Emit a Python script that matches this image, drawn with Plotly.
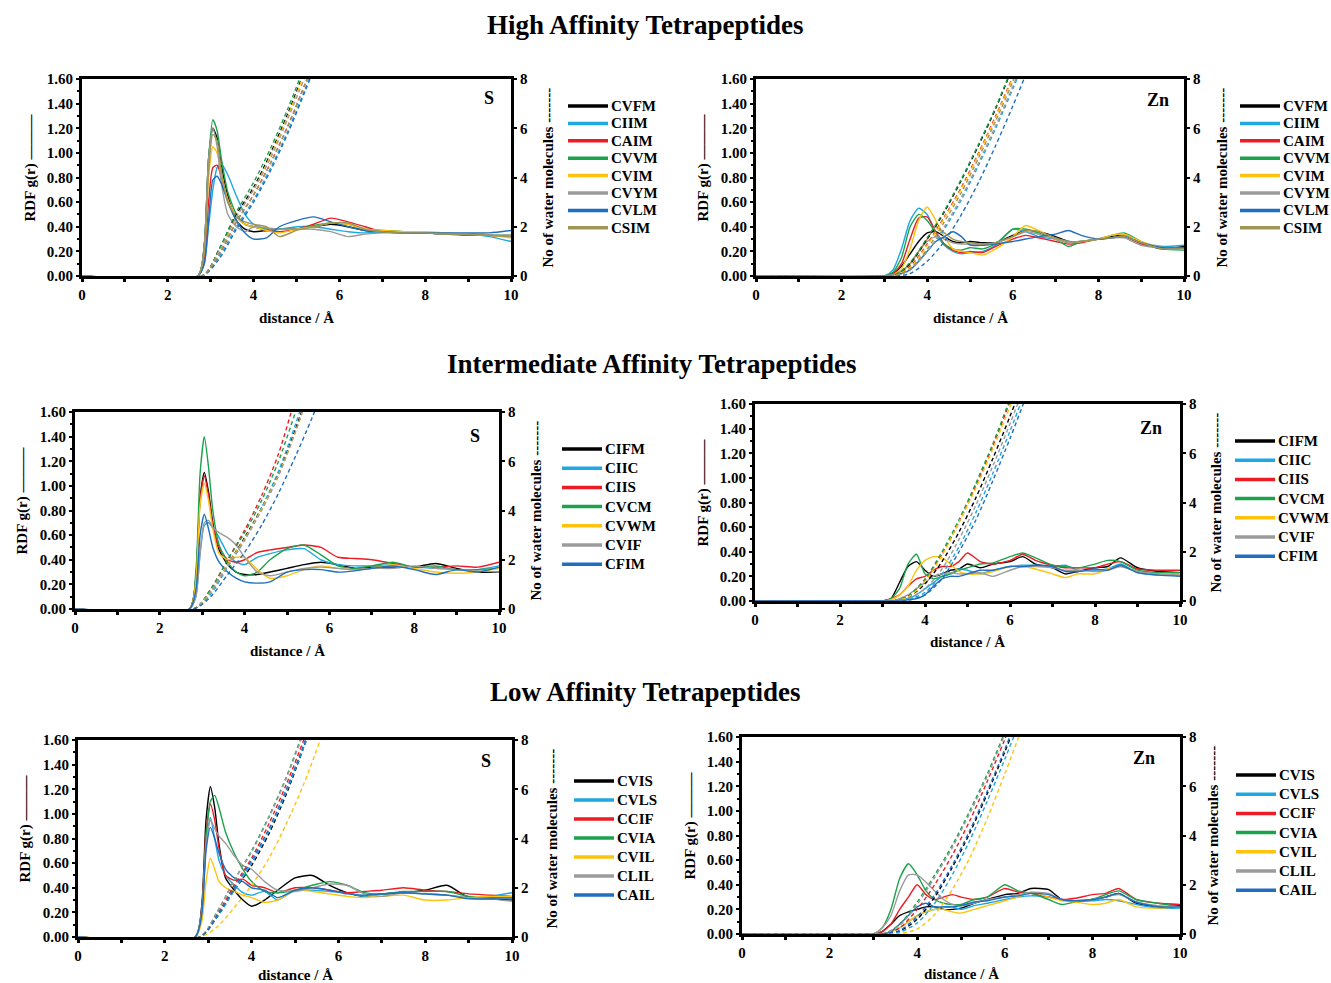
import plotly.graph_objects as go

W, H = 1331, 983

# ---------------- distance grids (Å) ----------------
r_S = [0, 2.7, 2.85, 2.95, 3.05, 3.15, 3.25, 3.4, 3.6, 3.8, 4.0, 4.3, 4.6, 5.0, 5.4, 5.8, 6.2, 6.6, 7.0, 7.5, 8.0, 8.5, 9.0, 9.5, 10.0]
r_Zn = [0, 3.0, 3.2, 3.4, 3.6, 3.8, 4.0, 4.2, 4.4, 4.6, 4.8, 5.0, 5.3, 5.6, 6.0, 6.3, 6.6, 7.0, 7.3, 7.6, 8.0, 8.3, 8.6, 9.0, 9.5, 10.0]
rn_S = [0, 2.8, 3.2, 3.6, 4.0, 4.4, 4.8, 5.2, 5.6, 6.0]
rn_Zn = [0, 3.2, 3.6, 4.0, 4.4, 4.8, 5.2, 5.6, 6.0, 6.4, 6.8]

# ---------------- peptide names ----------------
high_names = ["CVFM", "CIIM", "CAIM", "CVVM", "CVIM", "CVYM", "CVLM", "CSIM"]
mid_names = ["CIFM", "CIIC", "CIIS", "CVCM", "CVWM", "CVIF", "CFIM"]
low_names = ["CVIS", "CVLS", "CCIF", "CVIA", "CVIL", "CLIL", "CAIL"]

high_colors = ["#000000", "#1EA7E1", "#ED1C24", "#1BA34B", "#FFC20E", "#9B9B9B", "#1F6EBF", "#A09555"]
mid_colors = ["#000000", "#1EA7E1", "#ED1C24", "#1BA34B", "#FFC20E", "#9B9B9B", "#1F6EBF"]
low_colors = ["#000000", "#1EA7E1", "#ED1C24", "#1BA34B", "#FFC20E", "#9B9B9B", "#1F6EBF"]

# ---------------- RDF g(r) : high affinity, S ----------------
high_S_rdf = {
    "CVFM": [0, 0, 0.25, 0.95, 1.20, 1.12, 0.90, 0.65, 0.45, 0.38, 0.36, 0.37, 0.38, 0.38, 0.40, 0.42, 0.40, 0.37, 0.36, 0.35, 0.35, 0.34, 0.34, 0.33, 0.33],
    "CIIM": [0, 0, 0.10, 0.40, 0.70, 0.88, 0.91, 0.82, 0.65, 0.50, 0.42, 0.38, 0.38, 0.40, 0.40, 0.38, 0.36, 0.35, 0.36, 0.36, 0.35, 0.34, 0.34, 0.32, 0.28],
    "CAIM": [0, 0, 0.15, 0.60, 0.88, 0.90, 0.80, 0.62, 0.48, 0.42, 0.40, 0.37, 0.36, 0.38, 0.42, 0.47, 0.44, 0.40, 0.36, 0.35, 0.35, 0.34, 0.34, 0.33, 0.32],
    "CVVM": [0, 0, 0.25, 0.95, 1.27, 1.18, 0.95, 0.68, 0.50, 0.42, 0.40, 0.38, 0.38, 0.38, 0.41, 0.43, 0.42, 0.38, 0.37, 0.36, 0.35, 0.34, 0.33, 0.33, 0.33],
    "CVIM": [0, 0, 0.20, 0.80, 1.05, 1.00, 0.82, 0.62, 0.48, 0.42, 0.40, 0.37, 0.35, 0.38, 0.40, 0.43, 0.42, 0.38, 0.37, 0.36, 0.36, 0.35, 0.34, 0.33, 0.31],
    "CVYM": [0, 0, 0.25, 0.95, 1.20, 1.05, 0.75, 0.50, 0.40, 0.36, 0.40, 0.39, 0.38, 0.38, 0.38, 0.36, 0.32, 0.34, 0.35, 0.35, 0.35, 0.34, 0.34, 0.33, 0.33],
    "CVLM": [0, 0, 0.10, 0.45, 0.78, 0.81, 0.75, 0.60, 0.45, 0.35, 0.30, 0.31, 0.40, 0.45, 0.48, 0.44, 0.40, 0.37, 0.36, 0.35, 0.35, 0.35, 0.35, 0.35, 0.37],
    "CSIM": [0, 0, 0.20, 0.85, 1.15, 1.10, 0.85, 0.60, 0.48, 0.44, 0.42, 0.40, 0.32, 0.37, 0.40, 0.43, 0.43, 0.38, 0.36, 0.35, 0.35, 0.34, 0.34, 0.33, 0.32],
}
high_S_cn = {
    "CVFM": [0, 0, 1.1, 2.5, 3.6, 5.0, 6.6, 8.4, 10.3, 12.3],
    "CIIM": [0, 0, 0.8, 2.0, 3.1, 4.4, 5.9, 7.6, 9.4, 11.4],
    "CAIM": [0, 0, 0.9, 2.2, 3.3, 4.6, 6.1, 7.8, 9.6, 11.6],
    "CVVM": [0, 0, 1.1, 2.6, 3.8, 5.2, 6.8, 8.6, 10.5, 12.5],
    "CVIM": [0, 0, 1.0, 2.4, 3.5, 4.9, 6.5, 8.3, 10.2, 12.2],
    "CVYM": [0, 0, 1.0, 2.4, 3.5, 4.8, 6.4, 8.1, 10.0, 12.0],
    "CVLM": [0, 0, 0.7, 1.9, 3.0, 4.3, 5.8, 7.5, 9.3, 11.3],
    "CSIM": [0, 0, 0.9, 2.2, 3.3, 4.6, 6.1, 7.8, 9.6, 11.6],
}

# ---------------- high affinity, Zn ----------------
high_Zn_rdf = {
    "CVFM": [0, 0, 0.02, 0.08, 0.18, 0.28, 0.35, 0.36, 0.32, 0.28, 0.27, 0.28, 0.27, 0.27, 0.33, 0.37, 0.36, 0.32, 0.28, 0.28, 0.30, 0.32, 0.33, 0.27, 0.22, 0.24],
    "CIIM": [0, 0, 0.05, 0.22, 0.45, 0.55, 0.50, 0.35, 0.25, 0.20, 0.18, 0.19, 0.20, 0.25, 0.38, 0.36, 0.32, 0.30, 0.28, 0.28, 0.30, 0.31, 0.33, 0.27, 0.24, 0.25],
    "CAIM": [0, 0, 0.02, 0.10, 0.30, 0.47, 0.48, 0.36, 0.26, 0.21, 0.19, 0.20, 0.19, 0.24, 0.30, 0.33, 0.31, 0.28, 0.26, 0.27, 0.30, 0.31, 0.32, 0.26, 0.23, 0.23],
    "CVVM": [0, 0, 0.03, 0.15, 0.40, 0.50, 0.45, 0.35, 0.26, 0.22, 0.21, 0.23, 0.22, 0.26, 0.38, 0.38, 0.35, 0.30, 0.24, 0.28, 0.30, 0.33, 0.35, 0.28, 0.22, 0.21],
    "CVIM": [0, 0, 0.01, 0.06, 0.22, 0.45, 0.56, 0.45, 0.32, 0.22, 0.20, 0.19, 0.17, 0.22, 0.32, 0.41, 0.37, 0.30, 0.27, 0.28, 0.30, 0.33, 0.34, 0.28, 0.23, 0.22],
    "CVYM": [0, 0, 0.01, 0.04, 0.10, 0.20, 0.28, 0.32, 0.30, 0.27, 0.26, 0.26, 0.25, 0.27, 0.32, 0.36, 0.34, 0.30, 0.27, 0.28, 0.30, 0.31, 0.31, 0.25, 0.23, 0.23],
    "CVLM": [0, 0, 0.01, 0.02, 0.05, 0.12, 0.20, 0.28, 0.32, 0.36, 0.32, 0.25, 0.25, 0.26, 0.28, 0.30, 0.32, 0.34, 0.37, 0.33, 0.30, 0.31, 0.32, 0.27, 0.23, 0.23],
    "CSIM": [0, 0, 0.01, 0.04, 0.10, 0.20, 0.30, 0.40, 0.35, 0.30, 0.28, 0.27, 0.26, 0.27, 0.32, 0.37, 0.36, 0.31, 0.28, 0.28, 0.30, 0.31, 0.32, 0.27, 0.22, 0.22],
}
high_Zn_cn = {
    "CVFM": [0, 0, 0.5, 1.5, 2.6, 3.9, 5.3, 6.8, 8.5, 10.3, 12.2],
    "CIIM": [0, 0, 0.3, 1.0, 1.9, 3.1, 4.5, 6.0, 7.6, 9.3, 11.1],
    "CAIM": [0, 0, 0.4, 1.3, 2.4, 3.6, 5.0, 6.5, 8.1, 9.9, 11.8],
    "CVVM": [0, 0, 0.55, 1.55, 2.65, 3.95, 5.35, 6.85, 8.55, 10.4, 12.3],
    "CVIM": [0, 0, 0.35, 1.25, 2.35, 3.55, 4.95, 6.45, 8.05, 9.8, 11.7],
    "CVYM": [0, 0, 0.25, 1.0, 2.0, 3.2, 4.6, 6.1, 7.7, 9.4, 11.2],
    "CVLM": [0, 0, 0.1, 0.6, 1.4, 2.5, 3.8, 5.3, 6.9, 8.6, 10.4],
    "CSIM": [0, 0, 0.3, 1.1, 2.2, 3.4, 4.8, 6.3, 7.9, 9.6, 11.4],
}

# ---------------- intermediate affinity, S ----------------
mid_S_rdf = {
    "CIFM": [0, 0, 0.25, 0.90, 1.11, 0.95, 0.70, 0.48, 0.36, 0.30, 0.28, 0.28, 0.30, 0.33, 0.36, 0.38, 0.36, 0.33, 0.34, 0.34, 0.34, 0.37, 0.33, 0.30, 0.30],
    "CIIC": [0, 0, 0.10, 0.45, 0.68, 0.70, 0.66, 0.58, 0.45, 0.38, 0.36, 0.42, 0.45, 0.48, 0.49, 0.40, 0.36, 0.35, 0.35, 0.36, 0.34, 0.33, 0.32, 0.32, 0.35],
    "CIIS": [0, 0, 0.25, 0.88, 1.08, 0.92, 0.68, 0.50, 0.40, 0.38, 0.40, 0.46, 0.48, 0.50, 0.52, 0.50, 0.42, 0.41, 0.40, 0.37, 0.34, 0.34, 0.35, 0.34, 0.38],
    "CVCM": [0, 0, 0.30, 1.10, 1.40, 1.15, 0.80, 0.52, 0.38, 0.30, 0.27, 0.30, 0.40, 0.49, 0.52, 0.44, 0.35, 0.33, 0.35, 0.38, 0.34, 0.35, 0.32, 0.32, 0.33],
    "CVWM": [0, 0, 0.22, 0.85, 1.02, 0.88, 0.65, 0.45, 0.40, 0.42, 0.42, 0.32, 0.25, 0.27, 0.32, 0.35, 0.33, 0.32, 0.33, 0.36, 0.33, 0.30, 0.29, 0.30, 0.33],
    "CVIF": [0, 0, 0.10, 0.45, 0.70, 0.72, 0.66, 0.62, 0.58, 0.52, 0.42, 0.30, 0.27, 0.30, 0.33, 0.34, 0.33, 0.32, 0.33, 0.33, 0.35, 0.33, 0.32, 0.31, 0.30],
    "CFIM": [0, 0, 0.15, 0.60, 0.77, 0.65, 0.50, 0.38, 0.30, 0.25, 0.22, 0.21, 0.22, 0.30, 0.32, 0.32, 0.30, 0.31, 0.33, 0.35, 0.32, 0.28, 0.32, 0.30, 0.34],
}
mid_S_cn = {
    "CIFM": [0, 0, 0.7, 1.8, 2.9, 4.1, 5.5, 7.3, 9.3, 11.3],
    "CIIC": [0, 0, 0.6, 1.7, 2.8, 4.1, 5.6, 7.5, 9.6, 11.6],
    "CIIS": [0, 0, 0.8, 2.0, 3.2, 4.6, 6.3, 8.6, 11.0, 13.0],
    "CVCM": [0, 0, 0.8, 2.0, 3.1, 4.4, 6.0, 8.0, 10.2, 12.2],
    "CVWM": [0, 0, 0.7, 1.8, 2.85, 4.05, 5.45, 7.2, 9.2, 11.2],
    "CVIF": [0, 0, 0.7, 1.75, 2.8, 4.0, 5.4, 7.2, 9.2, 11.2],
    "CFIM": [0, 0, 0.5, 1.4, 2.3, 3.4, 4.7, 6.2, 7.8, 9.6],
}

# ---------------- intermediate affinity, Zn ----------------
mid_Zn_rdf = {
    "CIFM": [0, 0, 0.02, 0.15, 0.28, 0.32, 0.25, 0.20, 0.22, 0.25, 0.26, 0.30, 0.27, 0.30, 0.32, 0.36, 0.30, 0.27, 0.22, 0.24, 0.27, 0.28, 0.35, 0.27, 0.24, 0.23],
    "CIIC": [0, 0, 0, 0.01, 0.02, 0.05, 0.10, 0.15, 0.20, 0.22, 0.26, 0.25, 0.22, 0.25, 0.28, 0.29, 0.29, 0.28, 0.29, 0.25, 0.25, 0.26, 0.30, 0.23, 0.21, 0.21],
    "CIIS": [0, 0, 0.02, 0.05, 0.12, 0.18, 0.20, 0.25, 0.28, 0.28, 0.32, 0.39, 0.32, 0.30, 0.33, 0.38, 0.33, 0.29, 0.27, 0.27, 0.27, 0.30, 0.32, 0.26, 0.25, 0.25],
    "CVCM": [0, 0, 0.02, 0.10, 0.30, 0.38, 0.22, 0.18, 0.20, 0.22, 0.25, 0.27, 0.30, 0.31, 0.36, 0.39, 0.35, 0.29, 0.28, 0.27, 0.30, 0.33, 0.32, 0.25, 0.23, 0.23],
    "CVWM": [0, 0, 0.01, 0.05, 0.12, 0.25, 0.33, 0.36, 0.35, 0.30, 0.24, 0.22, 0.22, 0.24, 0.28, 0.28, 0.26, 0.22, 0.19, 0.22, 0.22, 0.26, 0.28, 0.24, 0.21, 0.22],
    "CVIF": [0, 0, 0, 0.02, 0.05, 0.10, 0.15, 0.20, 0.22, 0.23, 0.22, 0.22, 0.23, 0.20, 0.25, 0.28, 0.28, 0.27, 0.25, 0.25, 0.24, 0.25, 0.28, 0.24, 0.22, 0.21],
    "CFIM": [0, 0, 0, 0, 0.01, 0.02, 0.05, 0.12, 0.18, 0.20, 0.20, 0.22, 0.25, 0.25, 0.28, 0.28, 0.29, 0.28, 0.24, 0.24, 0.26, 0.25, 0.29, 0.23, 0.21, 0.20],
}
mid_Zn_cn = {
    "CIFM": [0, 0, 0.15, 0.7, 1.6, 2.8, 4.2, 5.8, 7.5, 9.3, 11.2],
    "CIIC": [0, 0, 0.05, 0.35, 1.1, 2.2, 3.6, 5.2, 6.9, 8.7, 10.6],
    "CIIS": [0, 0, 0.2, 0.85, 1.9, 3.2, 4.7, 6.3, 8.1, 10.0, 12.0],
    "CVCM": [0, 0, 0.2, 0.9, 2.0, 3.3, 4.8, 6.4, 8.2, 10.0, 12.0],
    "CVWM": [0, 0, 0.15, 0.8, 1.85, 3.2, 4.6, 6.2, 7.9, 9.7, 11.6],
    "CVIF": [0, 0, 0.1, 0.5, 1.3, 2.5, 3.9, 5.5, 7.2, 9.0, 10.9],
    "CFIM": [0, 0, 0.03, 0.25, 0.9, 2.0, 3.3, 4.9, 6.6, 8.4, 10.3],
}

# ---------------- low affinity, S ----------------
low_S_rdf = {
    "CVIS": [0, 0, 0.25, 0.95, 1.22, 1.05, 0.75, 0.48, 0.38, 0.30, 0.25, 0.30, 0.38, 0.48, 0.50, 0.42, 0.36, 0.33, 0.35, 0.36, 0.38, 0.42, 0.32, 0.31, 0.30],
    "CVLS": [0, 0, 0.20, 0.75, 0.97, 0.80, 0.62, 0.50, 0.42, 0.36, 0.34, 0.37, 0.30, 0.38, 0.38, 0.37, 0.36, 0.33, 0.35, 0.36, 0.35, 0.34, 0.32, 0.33, 0.36],
    "CCIF": [0, 0, 0.22, 0.85, 1.08, 0.95, 0.72, 0.50, 0.46, 0.47, 0.42, 0.40, 0.36, 0.40, 0.40, 0.38, 0.36, 0.37, 0.38, 0.40, 0.38, 0.37, 0.35, 0.34, 0.33],
    "CVIA": [0, 0, 0.20, 0.80, 1.10, 1.15, 1.05, 0.85, 0.68, 0.55, 0.45, 0.37, 0.36, 0.38, 0.42, 0.45, 0.42, 0.36, 0.35, 0.37, 0.37, 0.37, 0.33, 0.32, 0.32],
    "CVIL": [0, 0, 0.12, 0.45, 0.64, 0.55, 0.45, 0.40, 0.37, 0.34, 0.32, 0.28, 0.30, 0.38, 0.37, 0.35, 0.33, 0.32, 0.33, 0.34, 0.30, 0.30, 0.32, 0.33, 0.33],
    "CLIL": [0, 0, 0.20, 0.75, 0.95, 0.88, 0.82, 0.76, 0.66, 0.58, 0.55, 0.45, 0.38, 0.37, 0.40, 0.43, 0.42, 0.35, 0.33, 0.36, 0.35, 0.34, 0.32, 0.31, 0.29],
    "CAIL": [0, 0, 0.18, 0.70, 0.89, 0.80, 0.68, 0.55, 0.48, 0.45, 0.40, 0.38, 0.32, 0.38, 0.40, 0.38, 0.35, 0.34, 0.35, 0.36, 0.35, 0.34, 0.31, 0.31, 0.31],
}
low_S_cn = {
    "CVIS": [0, 0, 0.8, 1.9, 2.9, 4.2, 5.8, 7.7, 9.7, 11.7],
    "CVLS": [0, 0, 0.8, 1.9, 3.0, 4.3, 5.9, 7.7, 9.6, 11.6],
    "CCIF": [0, 0, 0.9, 2.1, 3.2, 4.6, 6.2, 8.0, 10.0, 12.0],
    "CVIA": [0, 0, 1.0, 2.3, 3.5, 4.9, 6.5, 8.4, 10.5, 12.5],
    "CVIL": [0, 0, 0.4, 1.2, 2.1, 3.2, 4.6, 6.2, 8.1, 10.2],
    "CLIL": [0, 0, 1.0, 2.3, 3.45, 4.85, 6.45, 8.3, 10.3, 12.3],
    "CAIL": [0, 0, 0.85, 2.0, 3.1, 4.4, 6.0, 7.8, 9.8, 11.8],
}

# ---------------- low affinity, Zn ----------------
low_Zn_rdf = {
    "CVIS": [0, 0, 0.02, 0.08, 0.15, 0.18, 0.20, 0.22, 0.22, 0.20, 0.20, 0.21, 0.25, 0.28, 0.32, 0.33, 0.37, 0.36, 0.28, 0.27, 0.28, 0.30, 0.33, 0.25, 0.22, 0.23],
    "CVLS": [0, 0, 0, 0.02, 0.05, 0.10, 0.15, 0.18, 0.20, 0.22, 0.22, 0.20, 0.23, 0.25, 0.28, 0.30, 0.31, 0.30, 0.28, 0.27, 0.27, 0.28, 0.27, 0.24, 0.21, 0.21],
    "CCIF": [0, 0, 0.02, 0.08, 0.20, 0.30, 0.40, 0.32, 0.28, 0.30, 0.32, 0.30, 0.28, 0.30, 0.37, 0.34, 0.33, 0.30, 0.28, 0.29, 0.32, 0.33, 0.37, 0.28, 0.25, 0.24],
    "CVIA": [0, 0, 0.05, 0.20, 0.45, 0.57, 0.48, 0.35, 0.28, 0.25, 0.24, 0.24, 0.28, 0.30, 0.40, 0.35, 0.33, 0.28, 0.24, 0.26, 0.28, 0.32, 0.35, 0.28, 0.25, 0.22],
    "CVIL": [0, 0, 0, 0.02, 0.05, 0.10, 0.15, 0.18, 0.20, 0.20, 0.18, 0.17, 0.20, 0.23, 0.27, 0.30, 0.34, 0.30, 0.27, 0.26, 0.24, 0.25, 0.28, 0.22, 0.21, 0.22],
    "CLIL": [0, 0, 0.05, 0.15, 0.35, 0.48, 0.48, 0.42, 0.35, 0.28, 0.24, 0.23, 0.25, 0.28, 0.30, 0.32, 0.34, 0.33, 0.28, 0.27, 0.28, 0.30, 0.32, 0.26, 0.23, 0.22],
    "CAIL": [0, 0, 0, 0.02, 0.08, 0.15, 0.22, 0.25, 0.22, 0.22, 0.22, 0.23, 0.26, 0.27, 0.30, 0.31, 0.33, 0.32, 0.28, 0.27, 0.28, 0.30, 0.33, 0.26, 0.22, 0.22],
}
low_Zn_cn = {
    "CVIS": [0, 0, 0.12, 0.6, 1.5, 2.7, 4.1, 5.7, 7.4, 9.2, 11.1],
    "CVLS": [0, 0, 0.08, 0.45, 1.25, 2.4, 3.8, 5.4, 7.1, 8.9, 10.8],
    "CCIF": [0, 0, 0.25, 1.0, 2.0, 3.2, 4.6, 6.2, 7.9, 9.7, 11.6],
    "CVIA": [0, 0, 0.4, 1.3, 2.4, 3.6, 5.0, 6.5, 8.2, 10.0, 11.9],
    "CVIL": [0, 0, 0.02, 0.2, 0.8, 1.8, 3.1, 4.7, 6.5, 8.4, 10.4],
    "CLIL": [0, 0, 0.35, 1.2, 2.3, 3.5, 4.9, 6.4, 8.1, 9.9, 11.8],
    "CAIL": [0, 0, 0.15, 0.7, 1.6, 2.8, 4.2, 5.8, 7.5, 9.3, 11.2],
}

rdf_ticks = [0, 0.2, 0.4, 0.6, 0.8, 1.0, 1.2, 1.4, 1.6]
cn_ticks = [0, 2, 4, 6, 8]
x_ticks = [0, 2, 4, 6, 8, 10]

section_titles = ["High Affinity Tetrapeptides", "Intermediate Affinity Tetrapeptides", "Low Affinity Tetrapeptides"]

# ---------------- layout (pixel geometry) ----------------
panels = [
    dict(names=high_names, colors=high_colors, rdf=high_S_rdf, cn=high_S_cn, r=r_S, rn=rn_S, site="S",
         px=(82, 511), py=(79, 276), site_xy=(489, 98), leg=(568, 106, 17.4), ylab_x=30, y2lab_x=547, xlab_y=318),
    dict(names=high_names, colors=high_colors, rdf=high_Zn_rdf, cn=high_Zn_cn, r=r_Zn, rn=rn_Zn, site="Zn",
         px=(756, 1184), py=(79, 276), site_xy=(1158, 100), leg=(1240, 106, 17.4), ylab_x=703, y2lab_x=1221, xlab_y=318),
    dict(names=mid_names, colors=mid_colors, rdf=mid_S_rdf, cn=mid_S_cn, r=r_S, rn=rn_S, site="S",
         px=(75, 499), py=(412, 609), site_xy=(475, 436), leg=(562, 449, 19.2), ylab_x=22, y2lab_x=536, xlab_y=651),
    dict(names=mid_names, colors=mid_colors, rdf=mid_Zn_rdf, cn=mid_Zn_cn, r=r_Zn, rn=rn_Zn, site="Zn",
         px=(755, 1180), py=(404, 601), site_xy=(1151, 428), leg=(1235, 441, 19.2), ylab_x=703, y2lab_x=1215, xlab_y=642),
    dict(names=low_names, colors=low_colors, rdf=low_S_rdf, cn=low_S_cn, r=r_S, rn=rn_S, site="S",
         px=(78, 512), py=(740, 937), site_xy=(486, 761), leg=(574, 781, 19.0), ylab_x=25, y2lab_x=551, xlab_y=975),
    dict(names=low_names, colors=low_colors, rdf=low_Zn_rdf, cn=low_Zn_cn, r=r_Zn, rn=rn_Zn, site="Zn",
         px=(742, 1180), py=(737, 934), site_xy=(1144, 758), leg=(1236, 775, 19.2), ylab_x=690, y2lab_x=1212, xlab_y=974),
]
title_pos = [(645, 25), (651, 364), (645, 692)]

FONT = "Liberation Serif"


def fx(p):
    return p / W


def fy(p):
    return 1 - p / H


fig = go.Figure()
layout = {}
annotations = []
shapes = []

for i, P in enumerate(panels):
    xname = "x" if i == 0 else f"x{i + 1}"
    y1 = "y" if i == 0 else f"y{2 * i + 1}"
    y2 = f"y{2 * i + 2}"
    xkey = "xaxis" if i == 0 else f"xaxis{i + 1}"
    y1key = "yaxis" if i == 0 else f"yaxis{2 * i + 1}"
    y2key = f"yaxis{2 * i + 2}"

    # cumulative number of water molecules (dashed, right axis)
    for name, col in zip(P["names"], P["colors"]):
        fig.add_trace(go.Scatter(x=P["rn"], y=P["cn"][name], xaxis=xname, yaxis=y2, mode="lines",
                                 line=dict(color=col, width=1.4, dash="4px,3px", shape="spline", smoothing=0.8),
                                 showlegend=False, hoverinfo="skip"))
    # RDF (solid, left axis)
    for name, col in zip(P["names"], P["colors"]):
        fig.add_trace(go.Scatter(x=P["r"], y=P["rdf"][name], xaxis=xname, yaxis=y1, mode="lines", name=name,
                                 line=dict(color=col, width=1.4, shape="spline", smoothing=0.6),
                                 showlegend=False))

    tickfont = dict(family=FONT, size=15, color="black", weight="bold")
    layout[xkey] = dict(domain=[fx(P["px"][0]), fx(P["px"][1])], anchor=y1, range=[0, 10],
                        tickvals=x_ticks, ticks="outside", ticklen=3, tickwidth=3, tickcolor="black",
                        minor=dict(dtick=1, tick0=0, ticks="outside", ticklen=3, tickwidth=3, tickcolor="black"),
                        showline=True, linewidth=3, linecolor="black", mirror=True, automargin=False,
                        showgrid=False, zeroline=False, tickfont=tickfont, fixedrange=True)
    layout[y1key] = dict(domain=[fy(P["py"][1]), fy(P["py"][0])], anchor=xname, range=[0, 1.6],
                         tickvals=rdf_ticks, ticktext=[f"{v:.2f}" for v in rdf_ticks],
                         ticks="outside", ticklen=3, tickwidth=2, tickcolor="black",
                         minor=dict(dtick=0.1, tick0=0, ticks="outside", ticklen=2, tickwidth=2, tickcolor="black"),
                         showline=True, linewidth=3, linecolor="black", automargin=False,
                         showgrid=False, zeroline=False, tickfont=tickfont, fixedrange=True)
    layout[y2key] = dict(overlaying=y1, anchor=xname, side="right", range=[0, 8],
                         tickvals=cn_ticks, ticks="outside", ticklen=3, tickwidth=2, tickcolor="black",
                         showline=True, linewidth=3, linecolor="black", automargin=False,
                         showgrid=False, zeroline=False, tickfont=tickfont, fixedrange=True)

    ymid = (P["py"][0] + P["py"][1]) / 2
    xmid = (P["px"][0] + P["px"][1]) / 2
    lab_font = dict(family=FONT, size=15, color="black", weight="bold")
    annotations.append(dict(text="distance / Å", x=fx(xmid), y=fy(P["xlab_y"]), xref="paper", yref="paper",
                            showarrow=False, font=lab_font, xanchor="center", yanchor="middle"))
    annotations.append(dict(text="RDF g(r) ———", x=fx(P["ylab_x"]), y=fy(ymid - 10), xref="paper", yref="paper",
                            showarrow=False, font=lab_font, textangle=-90, xanchor="center", yanchor="middle"))
    annotations.append(dict(text="No of water molecules -------", x=fx(P["y2lab_x"]), y=fy(ymid), xref="paper",
                            yref="paper", showarrow=False, font=lab_font, textangle=-90,
                            xanchor="center", yanchor="middle"))
    annotations.append(dict(text=P["site"], x=fx(P["site_xy"][0]), y=fy(P["site_xy"][1]), xref="paper",
                            yref="paper", showarrow=False,
                            font=dict(family=FONT, size=18, color="black", weight="bold"),
                            xanchor="center", yanchor="middle"))

    # legend (swatch + label per peptide)
    lx, ly, step = P["leg"]
    for k, (name, col) in enumerate(zip(P["names"], P["colors"])):
        yy = ly + k * step
        shapes.append(dict(type="line", xref="paper", yref="paper", x0=fx(lx), x1=fx(lx + 40),
                           y0=fy(yy), y1=fy(yy), line=dict(color=col, width=3.5)))
        annotations.append(dict(text=name, x=fx(lx + 41), y=fy(yy), xref="paper", yref="paper",
                                showarrow=False, xanchor="left", yanchor="middle",
                                font=dict(family=FONT, size=15, color="black", weight="bold")))

for t, (tx, ty) in zip(section_titles, title_pos):
    annotations.append(dict(text=t, x=fx(tx), y=fy(ty), xref="paper", yref="paper", showarrow=False,
                            xanchor="center", yanchor="middle",
                            font=dict(family=FONT, size=27, color="black", weight="bold")))

fig.update_layout(template="none", width=W, height=H, margin=dict(l=0, r=0, t=0, b=0, pad=0, autoexpand=False),
                  paper_bgcolor="white", plot_bgcolor="white", showlegend=False,
                  annotations=annotations, shapes=shapes, **layout)

fig.write_html("out.html", config={"displayModeBar": False},
               post_script="document.body.style.margin='0';document.body.style.overflow='hidden';")
